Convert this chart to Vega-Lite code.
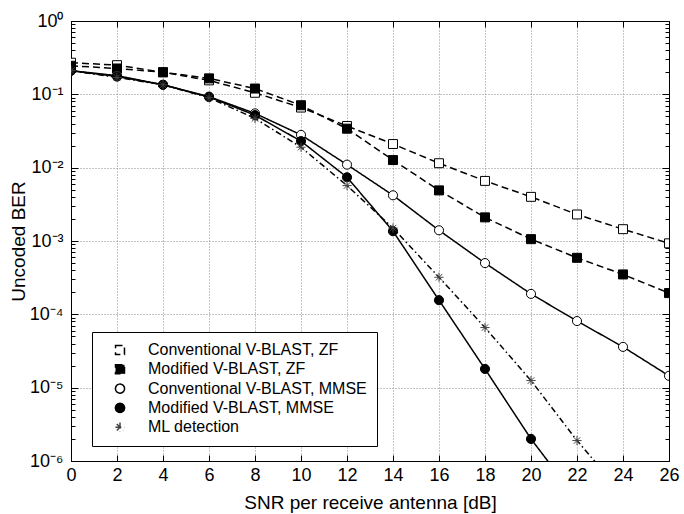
{
  "$schema": "https://vega.github.io/schema/vega-lite/v6.json",
  "width": 598,
  "height": 440,
  "autosize": {"type": "none"},
  "padding": {"left": 71, "top": 21, "right": 15, "bottom": 53},
  "background": "white",
  "data": {"values": [
    {"series": "Conventional V-BLAST, ZF", "snr": 0, "ber": 0.27},
    {"series": "Conventional V-BLAST, ZF", "snr": 2, "ber": 0.25},
    {"series": "Conventional V-BLAST, ZF", "snr": 4, "ber": 0.2},
    {"series": "Conventional V-BLAST, ZF", "snr": 6, "ber": 0.155},
    {"series": "Conventional V-BLAST, ZF", "snr": 8, "ber": 0.105},
    {"series": "Conventional V-BLAST, ZF", "snr": 10, "ber": 0.066},
    {"series": "Conventional V-BLAST, ZF", "snr": 12, "ber": 0.037},
    {"series": "Conventional V-BLAST, ZF", "snr": 14, "ber": 0.021},
    {"series": "Conventional V-BLAST, ZF", "snr": 16, "ber": 0.0115},
    {"series": "Conventional V-BLAST, ZF", "snr": 18, "ber": 0.0066},
    {"series": "Conventional V-BLAST, ZF", "snr": 20, "ber": 0.004},
    {"series": "Conventional V-BLAST, ZF", "snr": 22, "ber": 0.0023},
    {"series": "Conventional V-BLAST, ZF", "snr": 24, "ber": 0.00145},
    {"series": "Conventional V-BLAST, ZF", "snr": 26, "ber": 0.00093},
    {"series": "Modified V-BLAST, ZF", "snr": 0, "ber": 0.245},
    {"series": "Modified V-BLAST, ZF", "snr": 2, "ber": 0.225},
    {"series": "Modified V-BLAST, ZF", "snr": 4, "ber": 0.2},
    {"series": "Modified V-BLAST, ZF", "snr": 6, "ber": 0.165},
    {"series": "Modified V-BLAST, ZF", "snr": 8, "ber": 0.12},
    {"series": "Modified V-BLAST, ZF", "snr": 10, "ber": 0.071},
    {"series": "Modified V-BLAST, ZF", "snr": 12, "ber": 0.034},
    {"series": "Modified V-BLAST, ZF", "snr": 14, "ber": 0.0127},
    {"series": "Modified V-BLAST, ZF", "snr": 16, "ber": 0.0049},
    {"series": "Modified V-BLAST, ZF", "snr": 18, "ber": 0.0021},
    {"series": "Modified V-BLAST, ZF", "snr": 20, "ber": 0.00106},
    {"series": "Modified V-BLAST, ZF", "snr": 22, "ber": 0.00059},
    {"series": "Modified V-BLAST, ZF", "snr": 24, "ber": 0.00035},
    {"series": "Modified V-BLAST, ZF", "snr": 26, "ber": 0.000195},
    {"series": "Conventional V-BLAST, MMSE", "snr": 0, "ber": 0.21},
    {"series": "Conventional V-BLAST, MMSE", "snr": 2, "ber": 0.18},
    {"series": "Conventional V-BLAST, MMSE", "snr": 4, "ber": 0.135},
    {"series": "Conventional V-BLAST, MMSE", "snr": 6, "ber": 0.093},
    {"series": "Conventional V-BLAST, MMSE", "snr": 8, "ber": 0.055},
    {"series": "Conventional V-BLAST, MMSE", "snr": 10, "ber": 0.028},
    {"series": "Conventional V-BLAST, MMSE", "snr": 12, "ber": 0.011},
    {"series": "Conventional V-BLAST, MMSE", "snr": 14, "ber": 0.0042},
    {"series": "Conventional V-BLAST, MMSE", "snr": 16, "ber": 0.0014},
    {"series": "Conventional V-BLAST, MMSE", "snr": 18, "ber": 0.0005},
    {"series": "Conventional V-BLAST, MMSE", "snr": 20, "ber": 0.00019},
    {"series": "Conventional V-BLAST, MMSE", "snr": 22, "ber": 0.000081},
    {"series": "Conventional V-BLAST, MMSE", "snr": 24, "ber": 0.000036},
    {"series": "Conventional V-BLAST, MMSE", "snr": 26, "ber": 0.0000145},
    {"series": "Modified V-BLAST, MMSE", "snr": 0, "ber": 0.21},
    {"series": "Modified V-BLAST, MMSE", "snr": 2, "ber": 0.175},
    {"series": "Modified V-BLAST, MMSE", "snr": 4, "ber": 0.135},
    {"series": "Modified V-BLAST, MMSE", "snr": 6, "ber": 0.092},
    {"series": "Modified V-BLAST, MMSE", "snr": 8, "ber": 0.052},
    {"series": "Modified V-BLAST, MMSE", "snr": 10, "ber": 0.023},
    {"series": "Modified V-BLAST, MMSE", "snr": 12, "ber": 0.0074},
    {"series": "Modified V-BLAST, MMSE", "snr": 14, "ber": 0.00136},
    {"series": "Modified V-BLAST, MMSE", "snr": 16, "ber": 0.000156},
    {"series": "Modified V-BLAST, MMSE", "snr": 18, "ber": 0.000018},
    {"series": "Modified V-BLAST, MMSE", "snr": 20, "ber": 0.000002},
    {"series": "Modified V-BLAST, MMSE", "snr": 22, "ber": 0.0000003},
    {"series": "ML detection", "snr": 0, "ber": 0.21},
    {"series": "ML detection", "snr": 2, "ber": 0.17},
    {"series": "ML detection", "snr": 4, "ber": 0.135},
    {"series": "ML detection", "snr": 6, "ber": 0.09},
    {"series": "ML detection", "snr": 8, "ber": 0.047},
    {"series": "ML detection", "snr": 10, "ber": 0.019},
    {"series": "ML detection", "snr": 12, "ber": 0.0057},
    {"series": "ML detection", "snr": 14, "ber": 0.0015},
    {"series": "ML detection", "snr": 16, "ber": 0.00032},
    {"series": "ML detection", "snr": 18, "ber": 0.000066},
    {"series": "ML detection", "snr": 20, "ber": 0.0000125},
    {"series": "ML detection", "snr": 22, "ber": 0.0000019},
    {"series": "ML detection", "snr": 24, "ber": 0.00000035}
  ]},
  "layer": [
    {
      "mark": {"type": "line", "clip": true, "color": "black", "strokeWidth": 1.5},
      "encoding": {
        "x": {"field": "snr", "type": "quantitative",
          "scale": {"domain": [0, 26], "nice": false, "zero": false},
          "axis": {"orient": "bottom", "values": [0,2,4,6,8,10,12,14,16,18,20,22,24,26],
            "title": "SNR per receive antenna [dB]", "tickSize": -6, "labelPadding": 11,
            "titlePadding": 9, "grid": true, "gridDash": [1, 2], "gridColor": "#888", "gridOpacity": 1,
            "labelFlush": false}},
        "y": {"field": "ber", "type": "quantitative",
          "scale": {"type": "log", "domain": [0.000001, 1], "nice": false},
          "axis": {"orient": "left", "title": "Uncoded BER",
            "values": [0.000001,0.000002,0.000003,0.000004,0.000005,0.000006,0.000007,0.000008,0.000009,
                       0.00001,0.00002,0.00003,0.00004,0.00005,0.00006,0.00007,0.00008,0.00009,
                       0.0001,0.0002,0.0003,0.0004,0.0005,0.0006,0.0007,0.0008,0.0009,
                       0.001,0.002,0.003,0.004,0.005,0.006,0.007,0.008,0.009,
                       0.01,0.02,0.03,0.04,0.05,0.06,0.07,0.08,0.09,
                       0.1,0.2,0.3,0.4,0.5,0.6,0.7,0.8,0.9,1],
            "labelExpr": "abs(log(datum.value)/LN10 - round(log(datum.value)/LN10)) < 0.001 ? '10' + (round(log(datum.value)/LN10) == 0 ? '⁰' : '⁻' + ['','¹','²','³','⁴','⁵','⁶'][-round(log(datum.value)/LN10)]) : ''",
            "tickSize": {"condition": {"test": "abs(log(datum.value)/LN10 - round(log(datum.value)/LN10)) < 0.001", "value": -7}, "value": -4},
            "gridOpacity": {"condition": {"test": "abs(log(datum.value)/LN10 - round(log(datum.value)/LN10)) < 0.001", "value": 1}, "value": 0},
            "grid": true, "gridDash": [1, 2], "gridColor": "#888",
            "labelPadding": 15, "titlePadding": 1, "labelFlush": false, "labelOverlap": false}},
        "strokeDash": {"field": "series", "type": "nominal",
          "scale": {"domain": ["Conventional V-BLAST, ZF", "Modified V-BLAST, ZF", "Conventional V-BLAST, MMSE", "Modified V-BLAST, MMSE", "ML detection"],
                    "range": [[7, 4], [7, 4], [1, 0], [1, 0], [6, 3, 1.5, 3]]},
          "legend": {
            "title": null, "orient": "none", "legendX": 21, "legendY": 311,
            "symbolSize": 256, "symbolOffset": 10, "labelOffset": 20,
            "rowPadding": 3.3, "padding": 10,
            "strokeColor": "black", "fillColor": "white",
            "labelFont": "Liberation Sans", "labelFontSize": 16, "labelColor": "black", "labelLimit": 400,
            "labelExpr": "datum.label + '\u00a0\u00a0\u00a0\u00a0\u00a0'",
            "symbolStrokeWidth": 1.5, "symbolStrokeColor": "black"
          }}
      }
    },
    {
      "mark": {"type": "point", "clip": true, "filled": true, "strokeWidth": 1, "opacity": 1},
      "encoding": {
        "x": {"field": "snr", "type": "quantitative",
          "axis": {"orient": "top", "values": [0,2,4,6,8,10,12,14,16,18,20,22,24,26],
            "title": null, "labels": false, "tickSize": -6, "grid": false}},
        "y": {"field": "ber", "type": "quantitative",
          "axis": {"orient": "right", "title": null, "labels": false, "grid": false,
            "values": [0.000001,0.000002,0.000003,0.000004,0.000005,0.000006,0.000007,0.000008,0.000009,
                       0.00001,0.00002,0.00003,0.00004,0.00005,0.00006,0.00007,0.00008,0.00009,
                       0.0001,0.0002,0.0003,0.0004,0.0005,0.0006,0.0007,0.0008,0.0009,
                       0.001,0.002,0.003,0.004,0.005,0.006,0.007,0.008,0.009,
                       0.01,0.02,0.03,0.04,0.05,0.06,0.07,0.08,0.09,
                       0.1,0.2,0.3,0.4,0.5,0.6,0.7,0.8,0.9,1],
            "tickSize": {"condition": {"test": "abs(log(datum.value)/LN10 - round(log(datum.value)/LN10)) < 0.001", "value": -7}, "value": -4}}},
        "shape": {"field": "series", "type": "nominal", "legend": null,
          "scale": {"domain": ["Conventional V-BLAST, ZF", "Modified V-BLAST, ZF", "Conventional V-BLAST, MMSE", "Modified V-BLAST, MMSE", "ML detection"],
                    "range": ["square", "square", "circle", "circle", "M-1,0H1M0,-1V1M-0.7,-0.7L0.7,0.7M-0.7,0.7L0.7,-0.7"]}},
        "fill": {"field": "series", "type": "nominal", "legend": null,
          "scale": {"domain": ["Conventional V-BLAST, ZF", "Modified V-BLAST, ZF", "Conventional V-BLAST, MMSE", "Modified V-BLAST, MMSE", "ML detection"],
                    "range": ["white", "black", "white", "black", "transparent"]}},
        "stroke": {"field": "series", "type": "nominal", "legend": null,
          "scale": {"domain": ["Conventional V-BLAST, ZF", "Modified V-BLAST, ZF", "Conventional V-BLAST, MMSE", "Modified V-BLAST, MMSE", "ML detection"],
                    "range": ["black", "black", "black", "black", "#444"]}},
        "size": {"field": "series", "type": "nominal", "legend": null,
          "scale": {"domain": ["Conventional V-BLAST, ZF", "Modified V-BLAST, ZF", "Conventional V-BLAST, MMSE", "Modified V-BLAST, MMSE", "ML detection"],
                    "range": [80, 85, 85, 100, 100]}}
      }
    }
  ],
  "resolve": {"axis": {"x": "independent", "y": "independent"}},
  "config": {
    "view": {"stroke": "black", "strokeWidth": 1},
    "axis": {"labelFont": "Liberation Sans", "titleFont": "Liberation Sans", "labelColor": "black", "titleColor": "black",
             "domainColor": "black", "tickColor": "black", "labelFontSize": 18, "titleFontSize": 19, "titleFontWeight": "normal",
             "domainWidth": 1, "tickWidth": 1}
  }
}
